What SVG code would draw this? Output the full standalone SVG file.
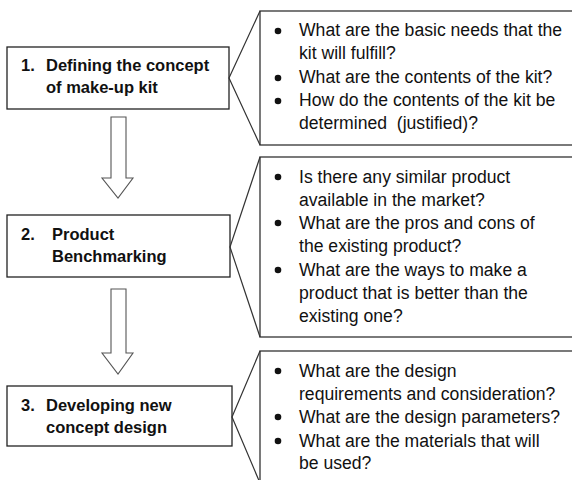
<svg xmlns="http://www.w3.org/2000/svg" width="572" height="480" viewBox="0 0 572 480">
<style>
.box{fill:#fff;stroke:#222;stroke-width:1.3}
.co{fill:#fff;stroke:#333;stroke-width:1.3}
.ln{fill:none;stroke:#333;stroke-width:1.2}
.arr{fill:#fff;stroke:#555;stroke-width:1.1}
.t{font-family:"Liberation Sans",Arial,sans-serif;font-size:17.6px;fill:#111}
.b{font-family:"Liberation Sans",Arial,sans-serif;font-size:16.5px;font-weight:bold;fill:#111}
.d{fill:#111}
</style>
<rect width="572" height="480" fill="#fff"/>
<g id="connectors">
<path class="arr" d="M111,117 H126 V178 H133 L118,198 L102,178 H111 Z"/>
<path class="arr" d="M111,289 H126 V353 H133 L118,374 L102,353 H111 Z"/>
</g>
<g id="step1">
<rect class="box" x="7" y="47" width="222" height="62"/>
<text class="b" x="21" y="71">1.</text>
<text class="b" x="46" y="71">Defining the concept</text>
<text class="b" x="46" y="93">of make-up kit</text>
</g>
<g id="callout1">
<rect class="co" x="260" y="11" width="330" height="134"/>
<path class="ln" d="M260,11 L229,78 L260,145"/>
<circle class="d" cx="278" cy="31" r="3.3"/>
<circle class="d" cx="278" cy="78" r="3.3"/>
<circle class="d" cx="278" cy="101" r="3.3"/>
<text class="t" x="299" y="36">What are the basic needs that the</text>
<text class="t" x="299" y="59">kit will fulfill?</text>
<text class="t" x="299" y="83">What are the contents of the kit?</text>
<text class="t" x="299" y="106">How do the contents of the kit be</text>
<text class="t" x="299" y="129" xml:space="preserve">determined  (justified)?</text>
</g>
<g id="step2">
<rect class="box" x="7" y="215" width="223" height="62"/>
<text class="b" x="21" y="240">2.</text>
<text class="b" x="52" y="240">Product</text>
<text class="b" x="52" y="262">Benchmarking</text>
</g>
<g id="callout2">
<rect class="co" x="260" y="157" width="330" height="180"/>
<path class="ln" d="M260,157 L230,247 L260,337"/>
<circle class="d" cx="278" cy="177" r="3.3"/>
<circle class="d" cx="278" cy="223" r="3.3"/>
<circle class="d" cx="278" cy="270" r="3.3"/>
<text class="t" x="299" y="183">Is there any similar product</text>
<text class="t" x="299" y="206">available in the market?</text>
<text class="t" x="299" y="229">What are the pros and cons of</text>
<text class="t" x="299" y="252">the existing product?</text>
<text class="t" x="299" y="276">What are the ways to make a</text>
<text class="t" x="299" y="299">product that is better than the</text>
<text class="t" x="299" y="322">existing one?</text>
</g>
<g id="step3">
<rect class="box" x="7" y="386" width="225" height="60"/>
<text class="b" x="21" y="411">3.</text>
<text class="b" x="46" y="411">Developing new</text>
<text class="b" x="46" y="433">concept design</text>
</g>
<g id="callout3">
<rect class="co" x="260" y="351" width="330" height="140"/>
<path class="ln" d="M260,351 L232,417 L260,483"/>
<circle class="d" cx="278" cy="371" r="3.3"/>
<circle class="d" cx="278" cy="417" r="3.3"/>
<circle class="d" cx="278" cy="441" r="3.3"/>
<text class="t" x="299" y="377">What are the design</text>
<text class="t" x="299" y="400">requirements and consideration?</text>
<text class="t" x="299" y="423">What are the design parameters?</text>
<text class="t" x="299" y="447">What are the materials that will</text>
<text class="t" x="299" y="469">be used?</text>
</g>
</svg>
